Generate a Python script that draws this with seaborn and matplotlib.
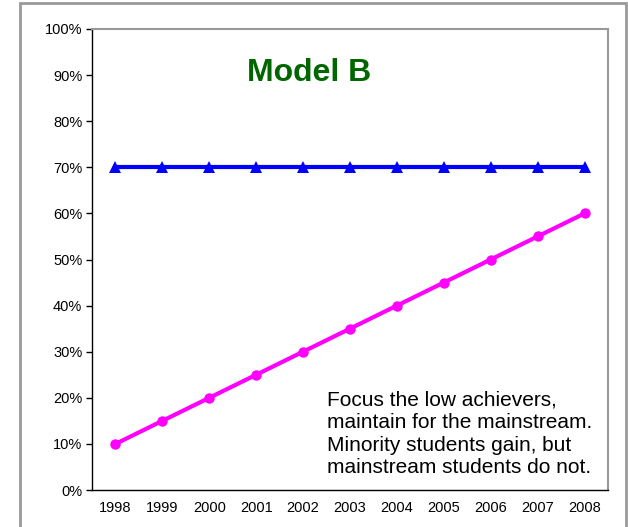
import numpy as np
import pandas as pd
import matplotlib.pyplot as plt
import seaborn as sns
from matplotlib.patches import Rectangle

# data
years = ["1998", "1999", "2000", "2001", "2002", "2003", "2004", "2005", "2006", "2007", "2008"]
mainstream = [0.70, 0.70, 0.70, 0.70, 0.70, 0.70, 0.70, 0.70, 0.70, 0.70, 0.70]
minority = [0.10, 0.15, 0.20, 0.25, 0.30, 0.35, 0.40, 0.45, 0.50, 0.55, 0.60]
y_ticks = [0.0, 0.1, 0.2, 0.3, 0.4, 0.5, 0.6, 0.7, 0.8, 0.9, 1.0]

sns.set_style("white")
plt.rcParams['font.family'] = ['Liberation Sans', 'DejaVu Sans']
plt.rcParams['text.color'] = 'black'
plt.rcParams['xtick.color'] = 'black'
plt.rcParams['ytick.color'] = 'black'

df = pd.DataFrame({"pos": range(len(years)), "mainstream": mainstream, "minority": minority})

fig = plt.figure(figsize=(6.28, 5.27), dpi=100)
ax = fig.add_axes([92/628, 1 - 490/527, (608 - 92)/628, (490 - 29)/527])

sns.lineplot(data=df, x="pos", y="mainstream", ax=ax, color="#0000FF", lw=3,
             marker="^", markersize=8, markeredgewidth=0)
sns.lineplot(data=df, x="pos", y="minority", ax=ax, color="#FF00FF", lw=3,
             marker="o", markersize=7.5, markeredgewidth=0)

ax.set_xlim(-0.5, len(years) - 0.5)
ax.set_ylim(0, 1)
ax.set_yticks(y_ticks)
ax.set_yticklabels([f"{int(round(v*100))}%" for v in y_ticks], fontsize=10.5)
ax.set_xticks(np.arange(len(years)))
ax.set_xticklabels(years, fontsize=10.5)
ax.set_xticks(np.arange(-0.5, len(years)), minor=True)
ax.tick_params(axis="x", which="major", length=0, pad=8)
ax.tick_params(axis="x", which="minor", length=4, width=1, color="black", direction="out")
ax.tick_params(axis="y", length=4, width=1, color="black", direction="out", left=True, pad=3)
ax.set_xlabel("")
ax.set_ylabel("")

for s in ["left", "bottom"]:
    ax.spines[s].set_color("black")
    ax.spines[s].set_linewidth(1)
for s in ["top", "right"]:
    ax.spines[s].set_color("#999999")
    ax.spines[s].set_linewidth(1.5)

ax.text(0.42, 0.905, "Model B", transform=ax.transAxes, ha="center", va="center",
        fontsize=23, fontweight="bold", color="#006600")
ax.text(0.455, 0.122, "Focus the low achievers,\nmaintain for the mainstream.\nMinority students gain, but\nmainstream students do not.",
        transform=ax.transAxes, ha="left", va="center", fontsize=15, linespacing=1.24)

# outer frame of the slide chart
fig.patches.append(Rectangle((20/628, -0.05), (626 - 20)/628, 1.05 - 3/527,
                             transform=fig.transFigure, fill=False,
                             edgecolor="#999999", linewidth=2))

fig.savefig("out.png", dpi=100)
